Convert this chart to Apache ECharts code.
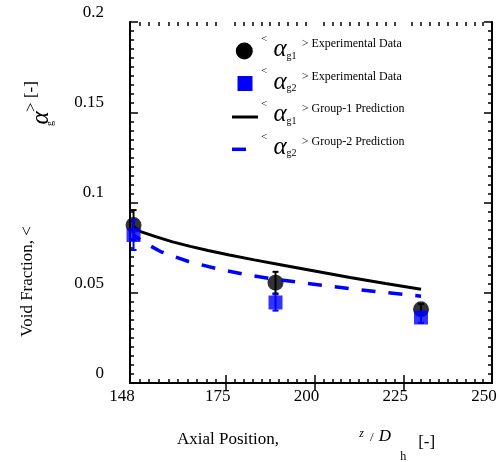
<!DOCTYPE html>
<html>
<head>
<meta charset="utf-8">
<script src="https://cdn.jsdelivr.net/npm/echarts@6/dist/echarts.min.js"></script>
<style>
  html, body { margin: 0; padding: 0; background: #fff; }
  #chart { width: 500px; height: 462px; }
</style>
</head>
<body>
<div id="chart"></div>
<script>
// measured points (z/Dh)
const expX = [149, 189, 230]
const g1Exp = [0.0875, 0.0556, 0.0408]
const g1Err = [0.0083, 0.006, 0.003]
const g2Exp = [0.082, 0.0446, 0.0363]
const g2Err = [0.0083, 0.0045, 0.003]

// prediction curves
const g1PredX = [149, 151, 155, 160, 165, 170, 176, 183, 190, 200, 210, 220, 230]
const g1Pred = [0.0865, 0.0839, 0.0812, 0.0782, 0.0757, 0.0734, 0.0709, 0.0682, 0.0657, 0.0621, 0.0585, 0.0551, 0.0519]
const g2PredX = [149, 151.5, 156.6, 164.5, 172.7, 179.8, 187.4, 195.1, 202.9, 210.7, 218.6, 226.3, 230]
const g2Pred = [0.082, 0.0784, 0.0728, 0.0673, 0.0632, 0.0604, 0.0579, 0.0559, 0.054, 0.0521, 0.0504, 0.0489, 0.0481]

// axis ticks / labels
const xLabels = [148, 175, 200, 225, 250]
const xMajorTicks = [175, 200, 225]
const xMinorTicks = []
for (let k = 1; k < 10; k++) xMinorTicks.push(148 + k * 2.7)
for (let v = 177.5; v < 250; v += 2.5) if (v % 25 !== 0) xMinorTicks.push(v)

const legendSubs = ['g1', 'g2', 'g1', 'g2']
const legendLabels = ['Experimental Data', 'Experimental Data', 'Group-1 Prediction', 'Group-2 Prediction']

const FONT = '"Liberation Serif", "Times New Roman", serif'
const BLUE = '#0000ff'

const txt = (x, y, s, size, o = {}) => ({
  type: 'text', x, y, rotation: o.rot || 0, z: 100,
  style: {
    text: s, fontSize: size, fontFamily: FONT, fontStyle: o.italic ? 'italic' : 'normal',
    fill: '#000', align: o.align || 'center', verticalAlign: 'middle'
  }
})

const pairs = (xs, ys) => xs.map((x, i) => [x, ys[i]])

const errorSeries = (ys, errs, color, z) => ({
  type: 'custom',
  xAxisIndex: 0, yAxisIndex: 0, z,
  data: expX.map((x, i) => [x, ys[i] - errs[i], ys[i] + errs[i]]),
  encode: { x: 0, y: [1, 2] },
  renderItem: (params, api) => {
    const lo = api.coord([api.value(0), api.value(1)])
    const hi = api.coord([api.value(0), api.value(2)])
    const st = { stroke: color, lineWidth: 2 }
    const w = 3
    return {
      type: 'group',
      children: [
        { type: 'line', shape: { x1: lo[0], y1: lo[1], x2: hi[0], y2: hi[1] }, style: st },
        { type: 'line', shape: { x1: lo[0] - w, y1: lo[1], x2: lo[0] + w, y2: lo[1] }, style: st },
        { type: 'line', shape: { x1: hi[0] - w, y1: hi[1], x2: hi[0] + w, y2: hi[1] }, style: st }
      ]
    }
  }
})

// legend + axis titles drawn as graphics
const graphics = []
const rowY = [44, 76.5, 109, 141.7]
graphics.push({ type: 'circle', shape: { cx: 244.3, cy: rowY[0] + 7, r: 8.5 }, style: { fill: '#000' }, z: 100 })
graphics.push({ type: 'rect', shape: { x: 237.5, y: rowY[1] + 7 - 7.5, width: 15, height: 15 }, style: { fill: BLUE }, z: 100 })
graphics.push({ type: 'line', shape: { x1: 232, y1: rowY[2] + 8, x2: 258, y2: rowY[2] + 8 }, style: { stroke: '#000', lineWidth: 3 }, z: 100 })
graphics.push({ type: 'line', shape: { x1: 232, y1: rowY[3] + 7.6, x2: 246, y2: rowY[3] + 7.6 }, style: { stroke: BLUE, lineWidth: 3.5 }, z: 100 })
rowY.forEach((r, i) => {
  graphics.push(txt(264, r - 5, '<', 11))
  graphics.push(txt(280, r + 5.5, 'α', 25, { italic: true }))
  graphics.push(txt(291.5, r + 12, legendSubs[i], 10))
  graphics.push(txt(301.7, r, '> ' + legendLabels[i], 12, { align: 'left' }))
})

// y title (rotated)
const R = Math.PI / 2
graphics.push(txt(28, 281.5, 'Void Fraction, <', 17, { rot: R }))
graphics.push(txt(41, 118, 'α', 25, { rot: R, italic: true }))
graphics.push(txt(50.5, 123.5, 'g', 10, { rot: R }))
graphics.push(txt(32, 96.5, '> [-]', 17, { rot: R }))

// x title
graphics.push(txt(228, 440, 'Axial Position,', 17))
graphics.push(txt(361.7, 434.3, 'z', 12, { italic: true }))
graphics.push(txt(371.7, 438, '/', 13))
graphics.push(txt(385, 437, 'D', 17, { italic: true }))
graphics.push(txt(403.3, 456.7, 'h', 12))
graphics.push(txt(426.7, 443, '[-]', 17))

const axisLine = { lineStyle: { color: '#000', width: 2 } }
const tickStyle = { color: '#000', width: 1.5 }
const labelStyle = { fontSize: 17, fontFamily: FONT, color: '#000' }
const gridBox = { left: 130, right: 8, top: 22, bottom: 79 }

const xMain = (position, withLabels) => ({
  type: 'value', gridIndex: 0, position, min: 148, max: 250,
  axisLine,
  axisTick: { inside: true, length: 8, customValues: xMajorTicks, lineStyle: tickStyle },
  axisLabel: withLabels
    ? { ...labelStyle, customValues: xLabels, margin: 5, padding: [0, 16, 0, 0] }
    : { show: false },
  splitLine: { show: false }
})
const xMinor = position => ({
  type: 'value', gridIndex: 1, position, min: 148, max: 250,
  axisLine: { show: false },
  axisTick: { inside: true, length: 4, customValues: xMinorTicks, lineStyle: tickStyle },
  axisLabel: { show: false },
  splitLine: { show: false }
})
const yMain = (position, withLabels) => ({
  type: 'value', gridIndex: 0, position, min: 0, max: 0.2, interval: 0.05,
  axisLine,
  axisTick: { inside: true, length: 8, lineStyle: tickStyle },
  minorTick: { show: true, splitNumber: 10, length: 4, lineStyle: tickStyle },
  axisLabel: withLabels ? { ...labelStyle, margin: 26, verticalAlign: 'bottom', padding: [0, 0, 1, 0] } : { show: false },
  splitLine: { show: false }
})

const chart = echarts.init(document.getElementById('chart'), null, { renderer: 'canvas' })
chart.setOption({
  animation: false,
  backgroundColor: '#fff',
  grid: [gridBox, gridBox],
  xAxis: [xMain('bottom', true), xMain('top', false), xMinor('bottom'), xMinor('top')],
  yAxis: [yMain('left', true), yMain('right', false),
    { type: 'value', gridIndex: 1, min: 0, max: 0.2, show: false }],
  graphic: graphics,
  series: [
    errorSeries(g1Exp, g1Err, '#000', 2),
    {
      type: 'scatter', xAxisIndex: 0, yAxisIndex: 0, z: 3,
      data: pairs(expX, g1Exp), symbol: 'circle', symbolSize: 16,
      itemStyle: { color: '#000' }
    },
    {
      type: 'line', xAxisIndex: 0, yAxisIndex: 0, z: 4,
      data: pairs(g1PredX, g1Pred), showSymbol: false,
      lineStyle: { color: '#000', width: 3 }
    },
    {
      type: 'line', xAxisIndex: 0, yAxisIndex: 0, z: 5,
      data: pairs(g2PredX, g2Pred), showSymbol: false,
      lineStyle: { color: BLUE, width: 3.5, type: [14, 13], dashOffset: 6, cap: 'butt' }
    },
    {
      type: 'scatter', xAxisIndex: 0, yAxisIndex: 0, z: 6,
      data: pairs(expX, g2Exp), symbol: 'rect', symbolSize: 14,
      itemStyle: { color: BLUE }
    },
    errorSeries(g2Exp, g2Err, BLUE, 7)
  ]
})
</script>
</body>
</html>
